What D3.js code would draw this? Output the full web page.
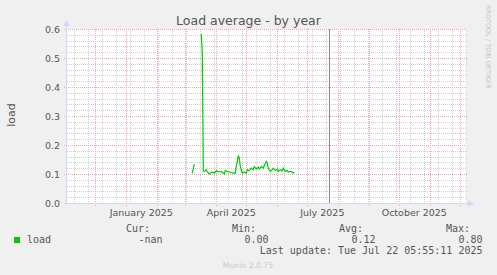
<!DOCTYPE html>
<html>
<head>
<meta charset="utf-8">
<script src="https://cdn.jsdelivr.net/npm/d3@7"></script>
<style>
  body { margin: 0; background: #f0f0f0; }
  svg { display: block; }
  text { font-family: "DejaVu Sans", sans-serif; fill: #555; }
  .mono { font-family: "DejaVu Sans Mono", monospace; font-size: 10px; }
</style>
</head>
<body>
<div id="app"></div>
<script>
// load average, yearly view (daily-ish averages)
const dates = [
  `2025-03-08`, `2025-03-10`, `2025-03-13`,
  `2025-03-17`, `2025-03-18`, `2025-03-19`, `2025-03-20`, `2025-03-22`, `2025-03-23`, `2025-03-25`,
  `2025-03-26`, `2025-03-28`, `2025-03-30`, `2025-04-01`, `2025-04-02`, `2025-04-04`, `2025-04-06`,
  `2025-04-09`, `2025-04-10`, `2025-04-12`, `2025-04-15`, `2025-04-18`, `2025-04-20`, `2025-04-21`,
  `2025-04-23`, `2025-04-24`, `2025-04-25`, `2025-04-27`, `2025-04-29`, `2025-05-01`, `2025-05-02`,
  `2025-05-04`, `2025-05-06`, `2025-05-08`, `2025-05-09`, `2025-05-11`, `2025-05-13`, `2025-05-14`,
  `2025-05-16`, `2025-05-18`, `2025-05-19`, `2025-05-21`, `2025-05-22`, `2025-05-23`, `2025-05-25`,
  `2025-05-27`, `2025-05-28`, `2025-05-30`, `2025-06-01`, `2025-06-02`, `2025-06-04`, `2025-06-06`,
  `2025-06-07`, `2025-06-09`, `2025-06-11`, `2025-06-12`, `2025-06-14`, `2025-06-16`, `2025-06-17`,
  `2025-06-18`
];
const load = [
  0.103, 0.134, null,
  0.583, 0.517, 0.110, 0.109, 0.115, 0.107, 0.100,
  0.103, 0.107, 0.103, 0.112, 0.109, 0.107, 0.109,
  0.100, 0.112, 0.109, 0.106, 0.103, 0.103, 0.126,
  0.161, 0.155, 0.126, 0.103, 0.107, 0.103, 0.115,
  0.111, 0.120, 0.115, 0.126, 0.117, 0.124, 0.117,
  0.126, 0.120, 0.129, 0.143, 0.138, 0.120, 0.109,
  0.115, 0.120, 0.112, 0.117, 0.109, 0.115, 0.111,
  0.120, 0.109, 0.112, 0.107, 0.109, 0.107, 0.103,
  0.105
];
const yTicks = [0, 0.1, 0.2, 0.3, 0.4, 0.5, 0.6];
const xLabels = [`2025-01-16`, `2025-04-16`, `2025-07-16`, `2025-10-16`];
const nowDate = `2025-07-22T05:55:11`;
const legendHead = [`Cur:`, `Min:`, `Avg:`, `Max:`];
const legendVals = [`-nan`, `0.00`, `0.12`, `0.80`];

const W = 497, H = 275;
const start = new Date(2024, 10, 2, 17), end = d3.timeDay.offset(start, 400);
const parse = d3.timeParse(`%Y-%m-%d`);

const x = d3.scaleTime().domain([start, end]).range([67, 467]);
const y = d3.scaleLinear().domain([0, 0.6]).range([203, 29]);

const svg = d3.select(`#app`).append(`svg`).attr(`width`, W).attr(`height`, H);

svg.append(`rect`).attr(`x`, 67).attr(`y`, 29).attr(`width`, 400).attr(`height`, 174).attr(`fill`, `#fff`);

// minor grid
const g = svg.append(`g`).attr(`shape-rendering`, `crispEdges`);
const minorY = d3.range(0, 0.6001, 0.02).filter(v => Math.abs(Math.round(v * 10) - v * 10) > 1e-6);
g.selectAll(`.my`).data(minorY).enter().append(`line`)
  .attr(`x1`, 67).attr(`x2`, 467).attr(`y1`, d => Math.round(y(d)) + 0.5).attr(`y2`, d => Math.round(y(d)) + 0.5)
  .attr(`stroke`, `#cfcfcf`).attr(`stroke-dasharray`, `1,1`);
const weeks = d3.timeSunday.range(start, end).filter((d, i) => i % 2 === 1);
g.selectAll(`.mx`).data(weeks).enter().append(`line`)
  .attr(`x1`, d => Math.round(x(d)) + 0.5).attr(`x2`, d => Math.round(x(d)) + 0.5).attr(`y1`, 29).attr(`y2`, 205)
  .attr(`stroke`, `#cfcfcf`).attr(`stroke-dasharray`, `1,1`);

// major grid
g.selectAll(`.My`).data(yTicks.slice(1)).enter().append(`line`)
  .attr(`x1`, 64).attr(`x2`, 467).attr(`y1`, d => Math.round(y(d)) + 0.5).attr(`y2`, d => Math.round(y(d)) + 0.5)
  .attr(`stroke`, `#eca8a8`).attr(`stroke-dasharray`, `1,1`);
const months = d3.timeMonth.range(start, end);
g.selectAll(`.Mx`).data(months).enter().append(`line`)
  .attr(`x1`, d => Math.round(x(d)) + 0.5).attr(`x2`, d => Math.round(x(d)) + 0.5).attr(`y1`, 29).attr(`y2`, 206)
  .attr(`stroke`, `#eca8a8`).attr(`stroke-dasharray`, `1,1`);

// now line
const nd = new Date(nowDate);
svg.append(`line`).attr(`x1`, Math.round(x(nd)) + 0.5).attr(`x2`, Math.round(x(nd)) + 0.5).attr(`y1`, 29).attr(`y2`, 203)
  .attr(`stroke`, `#888`).attr(`shape-rendering`, `crispEdges`);

// axes
svg.append(`line`).attr(`x1`, 66.5).attr(`x2`, 66.5).attr(`y1`, 24).attr(`y2`, 204).attr(`stroke`, `#cfd6f8`);
svg.append(`line`).attr(`x1`, 64).attr(`x2`, 470).attr(`y1`, 203.5).attr(`y2`, 203.5).attr(`stroke`, `#cfd6f8`);
svg.append(`path`).attr(`d`, `M63.5,26 L66.5,20 L69.5,26 Z`).attr(`fill`, `#cfd6f8`);
svg.append(`path`).attr(`d`, `M468,200.5 L474,203.5 L468,206.5 Z`).attr(`fill`, `#cfd6f8`);

// data line
const pts = dates.map((d, i) => ({ d: parse(d), v: load[i] }));
svg.append(`path`).datum(pts)
  .attr(`d`, d3.line().defined(p => p.v !== null).x(p => x(p.d)).y(p => y(p.v)))
  .attr(`fill`, `none`).attr(`stroke`, `#00cc00`).attr(`stroke-width`, 1.2);

// labels
svg.selectAll(`.yl`).data(yTicks).enter().append(`text`)
  .attr(`x`, 60).attr(`y`, d => y(d) + 3.5).attr(`text-anchor`, `end`).attr(`font-size`, `9.5px`)
  .text(d3.format(`.1f`));
svg.selectAll(`.xl`).data(xLabels).enter().append(`text`)
  .attr(`x`, d => x(parse(d))).attr(`y`, 216).attr(`text-anchor`, `middle`).attr(`font-size`, `9.5px`)
  .text(d => d3.timeFormat(`%B %Y`)(parse(d)));

svg.append(`text`).attr(`x`, 248.5).attr(`y`, 25).attr(`text-anchor`, `middle`).attr(`font-size`, `12.5px`)
  .text(`Load average - by year`);
svg.append(`text`).attr(`transform`, `translate(15,115) rotate(-90)`).attr(`text-anchor`, `middle`).attr(`font-size`, `11px`)
  .text(`load`);
svg.append(`text`).attr(`transform`, `translate(486,5) rotate(90)`).attr(`font-size`, `6.5px`).style(`fill`, `#c4c4c4`)
  .text(`RRDTOOL / TOBI OETIKER`);

// legend
svg.append(`rect`).attr(`x`, 14).attr(`y`, 237).attr(`width`, 6).attr(`height`, 6).attr(`fill`, `#00cc00`);
svg.append(`text`).attr(`class`, `mono`).attr(`x`, 27).attr(`y`, 243).text(`load`);
const colX = [150, 256, 363, 470];
svg.selectAll(`.lh`).data(legendHead).enter().append(`text`).attr(`class`, `mono`)
  .attr(`x`, (d, i) => colX[i]).attr(`y`, 231.5).attr(`text-anchor`, `end`).text(d => d);
svg.selectAll(`.lv`).data(legendVals).enter().append(`text`).attr(`class`, `mono`)
  .attr(`x`, (d, i) => colX[i] + 12.5).attr(`y`, 243).attr(`text-anchor`, `end`).text(d => d);
svg.append(`text`).attr(`class`, `mono`).attr(`x`, 482.5).attr(`y`, 254).attr(`text-anchor`, `end`)
  .text(`Last update: Tue Jul 22 05:55:11 2025`);
svg.append(`text`).attr(`x`, 248).attr(`y`, 268).attr(`text-anchor`, `middle`).attr(`font-size`, `7.7px`).style(`fill`, `#c8c8c8`)
  .text(`Munin 2.0.75`);
</script>
</body>
</html>
